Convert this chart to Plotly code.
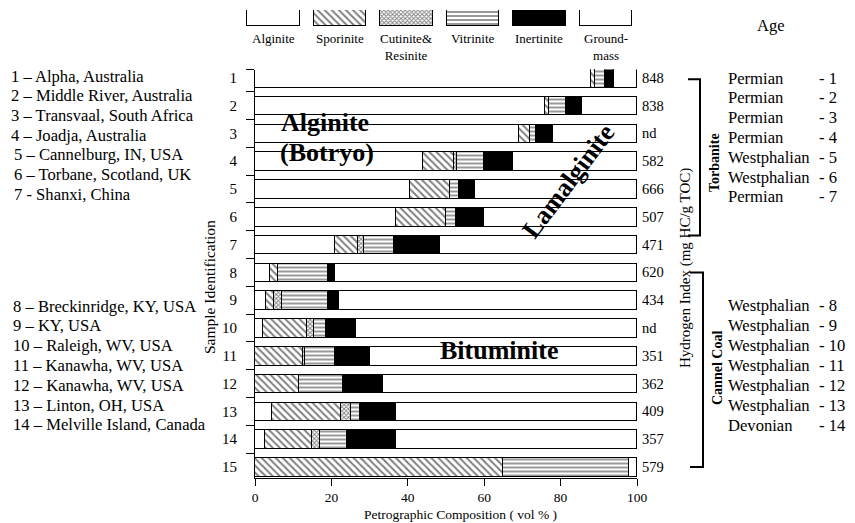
import plotly.graph_objects as go

W, H = 855, 523
def px(x): return x / W
def py(y): return 1 - y / H

FONT = "Liberation Serif"

# ---------------- data ----------------
rows = list(range(1, 16))
row_labels = [str(r) for r in rows]

components = ["Alginite", "Sporinite", "Cutinite & Resinite", "Vitrinite", "Inertinite", "Groundmass"]
legend_labels = ["Alginite", "Sporinite", "Cutinite&<br>Resinite", "Vitrinite", "Inertinite", "Ground-<br>mass"]

alginite   = [88, 76, 69, 44, 40.5, 37, 21, 4, 3, 2, 0, 0, 4.5, 2.5, 0]
sporinite  = [1, 1, 3, 8, 10.5, 13, 6, 2, 2, 11.5, 12.5, 11.5, 18, 12.5, 65]
cutinite   = [0, 0, 0, 1, 0, 0, 1.5, 0, 2, 2, 0.5, 0, 2.5, 2, 0]
vitrinite  = [2.5, 4.5, 1.5, 7, 2.5, 2.5, 8, 13, 12, 3, 8, 11.5, 2.5, 7, 33]
inertinite = [2.5, 4, 4.5, 7.5, 4, 7.5, 12, 2, 3, 8, 9, 10.5, 9.5, 13, 0]
groundmass = [6, 14.5, 22, 32.5, 42.5, 40, 51.5, 79, 78, 73.5, 70, 66.5, 63, 63, 2]

series = [alginite, sporinite, cutinite, vitrinite, inertinite, groundmass]

hydrogen_index = ["848", "838", "nd", "582", "666", "507", "471",
                  "620", "434", "nd", "351", "362", "409", "357", "579"]

sample_names = ["1 – Alpha, Australia", "2 – Middle River, Australia",
                "3 – Transvaal, South Africa", "4 – Joadja, Australia",
                "5 – Cannelburg, IN, USA", "6 – Torbane, Scotland, UK",
                "7 - Shanxi, China",
                "8 – Breckinridge, KY, USA", "9 – KY, USA", "10 – Raleigh, WV, USA",
                "11 – Kanawha, WV, USA", "12 – Kanawha, WV, USA",
                "13 – Linton, OH, USA", "14 – Melville Island, Canada"]

ages = ["Permian", "Permian", "Permian", "Permian", "Westphalian", "Westphalian", "Permian",
        "Westphalian", "Westphalian", "Westphalian", "Westphalian", "Westphalian",
        "Westphalian", "Devonian"]
age_ids = list(range(1, 15))

x_ticks = [0, 20, 40, 60, 80, 100]

# ---------------- styles ----------------
def marker_style(name):
    base = dict(line=dict(color="black", width=1))
    if name == "Sporinite":
        base.update(color="white", pattern=dict(shape="\\", size=5, solidity=0.4,
                                                fgcolor="black", bgcolor="white"))
    elif name == "Cutinite & Resinite":
        base.update(color="white", pattern=dict(shape="x", size=3, solidity=0.5,
                                                fgcolor="black", bgcolor="white"))
    elif name == "Vitrinite":
        base.update(color="white", pattern=dict(shape="-", size=4, solidity=0.4,
                                                fgcolor="black", bgcolor="white"))
    elif name == "Inertinite":
        base.update(color="black")
    else:
        base.update(color="white")
    return base

fig = go.Figure()

for name, vals in zip(components, series):
    fig.add_trace(go.Bar(
        y=rows, x=vals, orientation="h", name=name, width=0.67,
        marker=marker_style(name), xaxis="x", yaxis="y",
        hoverinfo="name+x"))

for i, name in enumerate(components):
    fig.add_trace(go.Bar(
        x=[i], y=[1], width=0.79, marker=marker_style(name),
        xaxis="x2", yaxis="y2", hoverinfo="skip", showlegend=False))

annotations = []
for i, lab in enumerate(legend_labels):
    annotations.append(dict(x=i, xref="x2", y=py(29), yref="paper", text=lab,
                            showarrow=False, xanchor="center", yanchor="top",
                            font=dict(family=FONT, size=13, color="black")))

for r, hi in zip(rows, hydrogen_index):
    annotations.append(dict(x=px(640), xref="paper", y=r, yref="y", text=hi,
                            showarrow=False, xanchor="left", yanchor="middle",
                            font=dict(family=FONT, size=14.5, color="black")))

for i, s in enumerate(sample_names):
    if i < 7:
        y = 76 + 19.7 * i
        x = 9 if i < 4 else 12
    else:
        y = 306 + 19.8 * (i - 7)
        x = 11
    annotations.append(dict(x=px(x), xref="paper", y=py(y), yref="paper", text=s,
                            showarrow=False, xanchor="left", yanchor="middle",
                            font=dict(family=FONT, size=16.6, color="black")))

for i, (a, n) in enumerate(zip(ages, age_ids)):
    y = 78 + 19.8 * i if i < 7 else 305 + 20 * (i - 7)
    annotations.append(dict(x=px(726), xref="paper", y=py(y), yref="paper", text=a,
                            showarrow=False, xanchor="left", yanchor="middle",
                            font=dict(family=FONT, size=16.6, color="black")))
    annotations.append(dict(x=px(817), xref="paper", y=py(y), yref="paper", text=f"- {n}",
                            showarrow=False, xanchor="left", yanchor="middle",
                            font=dict(family=FONT, size=16.6, color="black")))

def txt(x, y, t, size, angle=0, anchor="center"):
    return dict(x=px(x), xref="paper", y=py(y), yref="paper", text=t, showarrow=False,
                xanchor=anchor, yanchor="middle", textangle=angle,
                font=dict(family=FONT, size=size, color="black"))

annotations += [
    txt(771, 25, "Age", 16.5),
    txt(714, 163, "<b>Torbanite</b>", 14, -90),
    txt(717, 368, "<b>Cannel Coal</b>", 14, -90),
    txt(685, 268, "Hydrogen Index (mg HC/g TOC)", 15, -90),
    txt(209, 287, "Sample Identification", 15.5, -90),
    txt(460, 514.5, "Petrographic Composition ( vol % )", 13.5),
    txt(325, 122, "<b>Alginite</b>", 26),
    txt(327, 152, "<b>(Botryo)</b>", 26),
    txt(568, 181, "<b>Lamalginite</b>", 26, -53),
    txt(499, 350, "<b>Bituminite</b>", 26),
]

shapes = [
    dict(type="path", xref="paper", yref="y",
         path=f"M {px(688)},1.05 L {px(700)},1.05 L {px(700)},6.67 L {px(688)},6.67",
         line=dict(color="black", width=2)),
    dict(type="path", xref="paper", yref="y",
         path=f"M {px(690)},8.0 L {px(703)},8.0 L {px(703)},15.0 L {px(690)},15.0",
         line=dict(color="black", width=2)),
]

fig.update_layout(
    width=W, height=H, margin=dict(l=0, r=0, t=0, b=0, pad=0, autoexpand=False),
    paper_bgcolor="white", plot_bgcolor="white",
    barmode="stack", bargap=0, showlegend=False,
    font=dict(family=FONT, color="black"),
    xaxis=dict(domain=[px(255), px(637)], range=[0, 100], tickvals=x_ticks,
               ticks="outside", ticklen=7, tickcolor="black", showline=True,
               linecolor="black", linewidth=1, showgrid=False, zeroline=False,
               automargin=False,
               tickfont=dict(family=FONT, size=13.5, color="black"), anchor="y"),
    yaxis=dict(domain=[py(478.1), py(69.5)], range=[15.4, 0.7], tickvals=rows,
               ticktext=row_labels, ticks="", showline=True, linecolor="black",
               linewidth=1, showgrid=False, zeroline=False, anchor="x",
               automargin=False, ticklabelstandoff=14,
               minor=dict(tickmode="array",
                          tickvals=[0.7] + [r + 0.5 for r in rows[:-1]],
                          ticks="outside", ticklen=8, tickcolor="black", showgrid=False),
               tickfont=dict(family=FONT, size=15, color="black")),
    xaxis2=dict(domain=[px(239.75), px(639)], range=[-0.5, 5.5], visible=False,
                anchor="y2", fixedrange=True, automargin=False),
    yaxis2=dict(domain=[py(26), py(10)], range=[0, 1], visible=False,
                anchor="x2", fixedrange=True, automargin=False),
    annotations=annotations, shapes=shapes,
)

post = ("document.body.style.margin='0';document.body.style.padding='0';"
        "document.body.style.overflow='hidden';"
        "var gd=document.getElementById('{plot_id}');"
        "Plotly.relayout(gd,{width:%d,height:%d});" % (W, H))

fig.write_html("out.html", post_script=post, config={"displayModeBar": False})
